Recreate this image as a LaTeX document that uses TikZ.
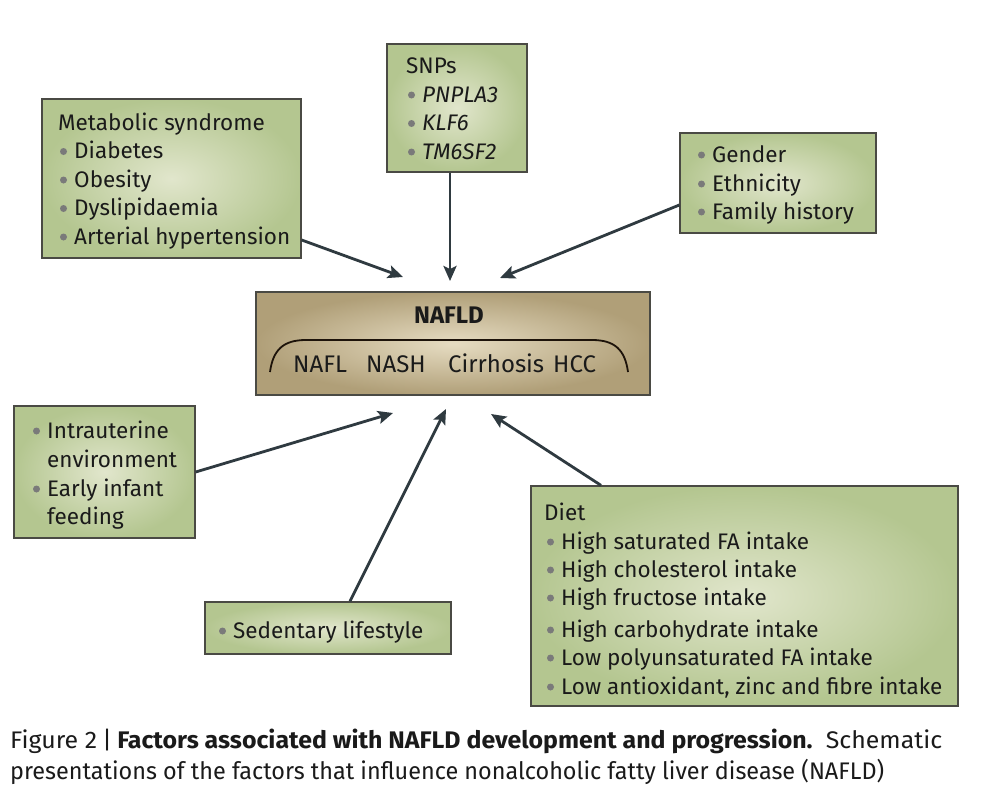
\documentclass[tikz,border=0pt]{standalone}
\usepackage{fontspec}
\setmainfont{Fira Sans}
\newfontfamily\capfont[FakeStretch=0.82]{Fira Sans}
\usepackage{graphicx}
\usetikzlibrary{arrows.meta,calc}
\definecolor{ink}{HTML}{1A1A1A}
\definecolor{bulgray}{HTML}{7A7A7A}
\definecolor{greenin}{HTML}{E1E6CC}
\definecolor{greenout}{HTML}{B4C690}
\definecolor{tanin}{HTML}{E6DCC2}
\definecolor{tanout}{HTML}{B09F78}
\definecolor{boxline}{HTML}{4A4A44}
\definecolor{arrowc}{HTML}{2F3A40}
\newcommand\bitem[4]{\node[dot] (#1d) at (#2-10.5,#3-7) {}; \node[txt] (#1) at (#2,#3) {#4};}
\newcommand\tline[4]{\node[txt] (#1) at (#2,#3) {#4};}
\begin{document}
\begin{tikzpicture}[x=1pt,y=-1pt,
  gbox/.style={draw=boxline, line width=1.3pt, inner color=greenin, outer color=greenout, rectangle, inner sep=0pt},
  tbox/.style={draw=boxline, line width=1.3pt, inner color=tanin, outer color=tanout, rectangle, inner sep=0pt},
  txt/.style={inner sep=0pt, anchor=base west, text=ink, font=\fontsize{22.5}{26}\selectfont},
  ntxt/.style={txt, font=\fontsize{24}{28}\selectfont},
  dot/.style={circle, fill=bulgray, minimum size=7pt, inner sep=0pt},
  arr/.style={draw=arrowc, line width=2.8pt, -{Stealth[length=15pt,width=13pt,inset=3pt]}}]
\useasboundingbox (0,0) rectangle (985,792);
\fill[white] (0,0) rectangle (985,792);

% boxes
\node[gbox, minimum width=259pt, minimum height=159pt] (meta) at (171.5,178.5) {};
\node[gbox, minimum width=140pt, minimum height=128pt] (snps) at (457,108) {};
\node[gbox, minimum width=196pt, minimum height=100pt] (gen) at (778,183) {};
\node[tbox, minimum width=394pt, minimum height=103pt] (nafld) at (453,343.5) {};
\node[gbox, minimum width=181pt, minimum height=132pt] (intra) at (104.5,472) {};
\node[gbox, minimum width=246pt, minimum height=52pt] (sed) at (328,628) {};
\node[gbox, minimum width=427pt, minimum height=220pt] (diet) at (744.5,596) {};

% metabolic
\tline{m0}{58}{130}{Metabolic syndrome}
\bitem{m1}{74}{158.5}{Diabetes}
\bitem{m2}{74}{187}{Obesity}
\bitem{m3}{74}{215.5}{Dyslipidaemia}
\bitem{m4}{74}{244}{Arterial hypertension}

% SNPs
\tline{s0}{406}{74}{SNPs}
\bitem{s1}{422}{102}{\itshape PNPLA3}
\bitem{s2}{422}{130.5}{\itshape KLF6}
\bitem{s3}{422}{159}{\itshape TM6SF2}

% gender
\bitem{g1}{712}{162}{Gender}
\bitem{g2}{712}{191}{Ethnicity}
\bitem{g3}{712}{219}{Family history}

% NAFLD
\node[ntxt, anchor=base] (ntitle) at (449,323) {\bfseries NAFLD};
\node[ntxt] (n1) at (293,372) {NAFL};
\node[ntxt] (n2) at (366,372) {NASH};
\node[ntxt] (n3) at (448,372) {Cirrhosis};
\node[ntxt] (n4) at (553,372) {HCC};
\draw[line width=1.8pt, draw=black!85!brown] (270,372) .. controls (273,350) and (283,340) .. (306,340) -- (592,340) .. controls (615,340) and (625,350) .. (628,372);

% intrauterine
\bitem{i1}{47}{438}{Intrauterine}
\tline{i2}{47}{467}{environment}
\bitem{i3}{47}{496}{Early infant}
\tline{i4}{47}{524}{feeding}

% sedentary
\bitem{l1}{233}{638}{Sedentary lifestyle}

% diet
\tline{d0}{544}{520}{Diet}
\bitem{d1}{561}{549}{High saturated FA intake}
\bitem{d2}{561}{577}{High cholesterol intake}
\bitem{d3}{561}{605}{High fructose intake}
\bitem{d4}{561}{637}{High carbohydrate intake}
\bitem{d5}{561}{665}{Low polyunsaturated FA intake}
\bitem{d6}{561}{694}{Low antioxidant, zinc and fibre intake}

% arrow targets
\coordinate (t1) at (403,277);
\coordinate (t2) at (450,281);
\coordinate (t3) at (500,278);
\coordinate (t4) at (393,413);
\coordinate (t5) at (446,409);
\coordinate (t6) at (491,414);

\draw[arr] ([yshift=-61.5pt]meta.east) -- (t1);
\draw[arr] ([xshift=-7pt]snps.south) -- (t2);
\draw[arr] ([yshift=-22pt]gen.west) -- (t3);
\draw[arr] (intra.east) -- (t4);
\draw[arr] ([xshift=22pt]sed.north) -- (t5);
\draw[arr] ([xshift=-143.5pt]diet.north) -- (t6);

% caption
\node[inner sep=0pt, anchor=base west, text=ink] (cap1) at (10,748) {\resizebox{932pt}{\height}{\capfont\fontsize{24}{28}\selectfont Figure 2\,|\,\textbf{Factors associated with NAFLD development and progression.}\ \ Schematic}};
\node[inner sep=0pt, anchor=base west, text=ink] (cap2) at (10,779) {\resizebox{874pt}{\height}{\capfont\fontsize{24}{28}\selectfont presentations of the factors that influence nonalcoholic fatty liver disease (NAFLD)}};
\end{tikzpicture}
\end{document}
